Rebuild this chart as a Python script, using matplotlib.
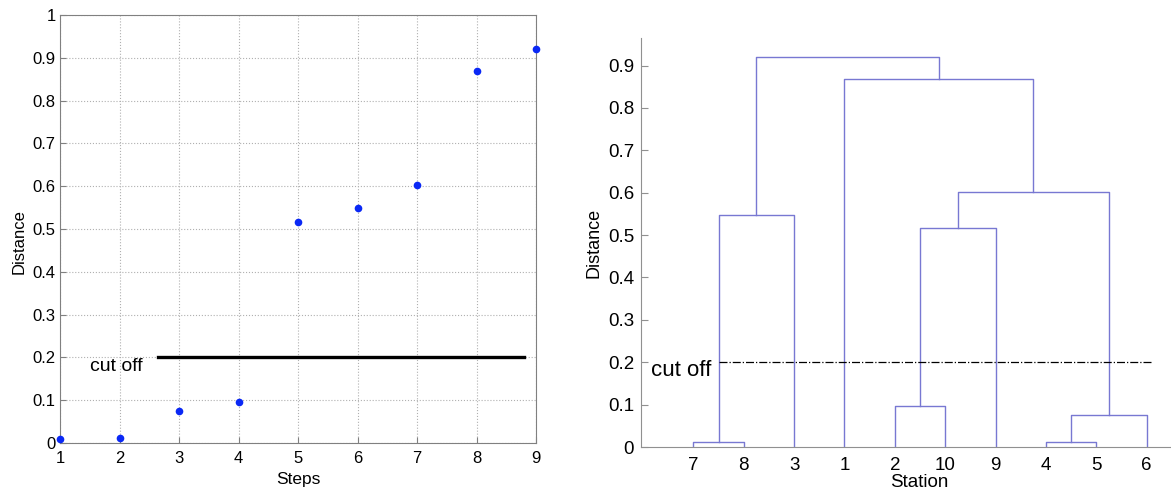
import matplotlib
matplotlib.use("Agg")
import matplotlib.pyplot as plt
import numpy as np

plt.rcParams['font.family'] = ['Liberation Sans', 'DejaVu Sans']

# Left chart data
steps = [1, 2, 3, 4, 5, 6, 7, 8, 9]
distances = [0.010, 0.012, 0.075, 0.096, 0.517, 0.548, 0.602, 0.868, 0.921]
cutoff = 0.2

# Dendrogram data
leaf_order = [7, 8, 3, 1, 2, 10, 9, 4, 5, 6]
merge_left = [7, 4, 12, 2, 14, 11, 15, 1, 16]
merge_right = [8, 5, 6, 10, 9, 3, 13, 17, 18]
merge_height = [0.012, 0.012, 0.075, 0.096, 0.517, 0.548, 0.602, 0.868, 0.921]

fig = plt.figure(figsize=(11.71, 4.93), dpi=100)

# ---- Left axes ----
ax1 = fig.add_axes([60/1171, 50/493, 476/1171, 428/493])
ax1.plot(steps, distances, 'o', color='#0a28f5', markersize=5.5, markeredgewidth=0,
         clip_on=False, zorder=3)
ax1.plot([2.65, 8.8], [cutoff, cutoff], color='black', linewidth=2.4)
ax1.text(1.5, cutoff - 0.002, 'cut off', fontsize=14, va='top', ha='left')
ax1.set_xlim(1, 9)
ax1.set_ylim(0, 1)
ax1.set_xticks(steps)
ax1.set_yticks(np.arange(0, 1.01, 0.1))
ax1.set_yticklabels(['0'] + ['%.1f' % v for v in np.arange(0.1, 0.95, 0.1)] + ['1'])
ax1.grid(True, linestyle=':', color='#b0b0b0', linewidth=0.8)
ax1.tick_params(direction='in', labelsize=12, length=4, color='#808080', pad=3)
ax1.tick_params(axis='x', pad=6)
for s in ax1.spines.values():
    s.set_color('#808080')
ax1.set_xlabel('Steps', fontsize=12.5, labelpad=4)
ax1.set_ylabel('Distance', fontsize=12, labelpad=4)
ax1.yaxis.set_label_coords(-0.07, 0.47)

# ---- Right axes (dendrogram) ----
ax2 = fig.add_axes([641/1171, 46/493, 556/1171, 409/493])
pos = {leaf: i + 1 for i, leaf in enumerate(leaf_order)}
hgt = {leaf: 0.0 for leaf in leaf_order}
n = len(leaf_order)
dcolor = '#7878d2'
for k, (a, b, h) in enumerate(zip(merge_left, merge_right, merge_height)):
    xa, xb = pos[a], pos[b]
    ax2.plot([xa, xa, xb, xb], [hgt[a], h, h, hgt[b]], color=dcolor, linewidth=1.0)
    cid = n + 1 + k
    pos[cid] = (xa + xb) / 2
    hgt[cid] = h
ax2.plot([1.5, 10.1], [cutoff, cutoff], color='black', linestyle='-.', linewidth=0.9)
ax2.text(0.15, cutoff + 0.005, 'cut off', fontsize=16, va='top', ha='left')
ax2.set_xlim(-0.04, 11)
ax2.set_ylim(0, 0.965)
ax2.set_xticks(range(1, n + 1))
ax2.set_xticklabels([str(l) for l in leaf_order])
ax2.set_yticks(np.arange(0, 0.95, 0.1))
ax2.set_yticklabels(['0'] + ['%.1f' % v for v in np.arange(0.1, 0.95, 0.1)])
ax2.spines['top'].set_visible(False)
ax2.spines['right'].set_visible(False)
ax2.spines['left'].set_color('#909090')
ax2.spines['bottom'].set_color('#909090')
ax2.tick_params(axis='y', direction='in', labelsize=13.5, length=5, color='#909090', pad=5)
ax2.tick_params(axis='x', length=0, labelsize=13.5, pad=7)
ax2.set_xlabel('Station', fontsize=13.5, labelpad=0)
ax2.set_ylabel('Distance', fontsize=13, labelpad=4)

fig.savefig('out.png', dpi=100)
